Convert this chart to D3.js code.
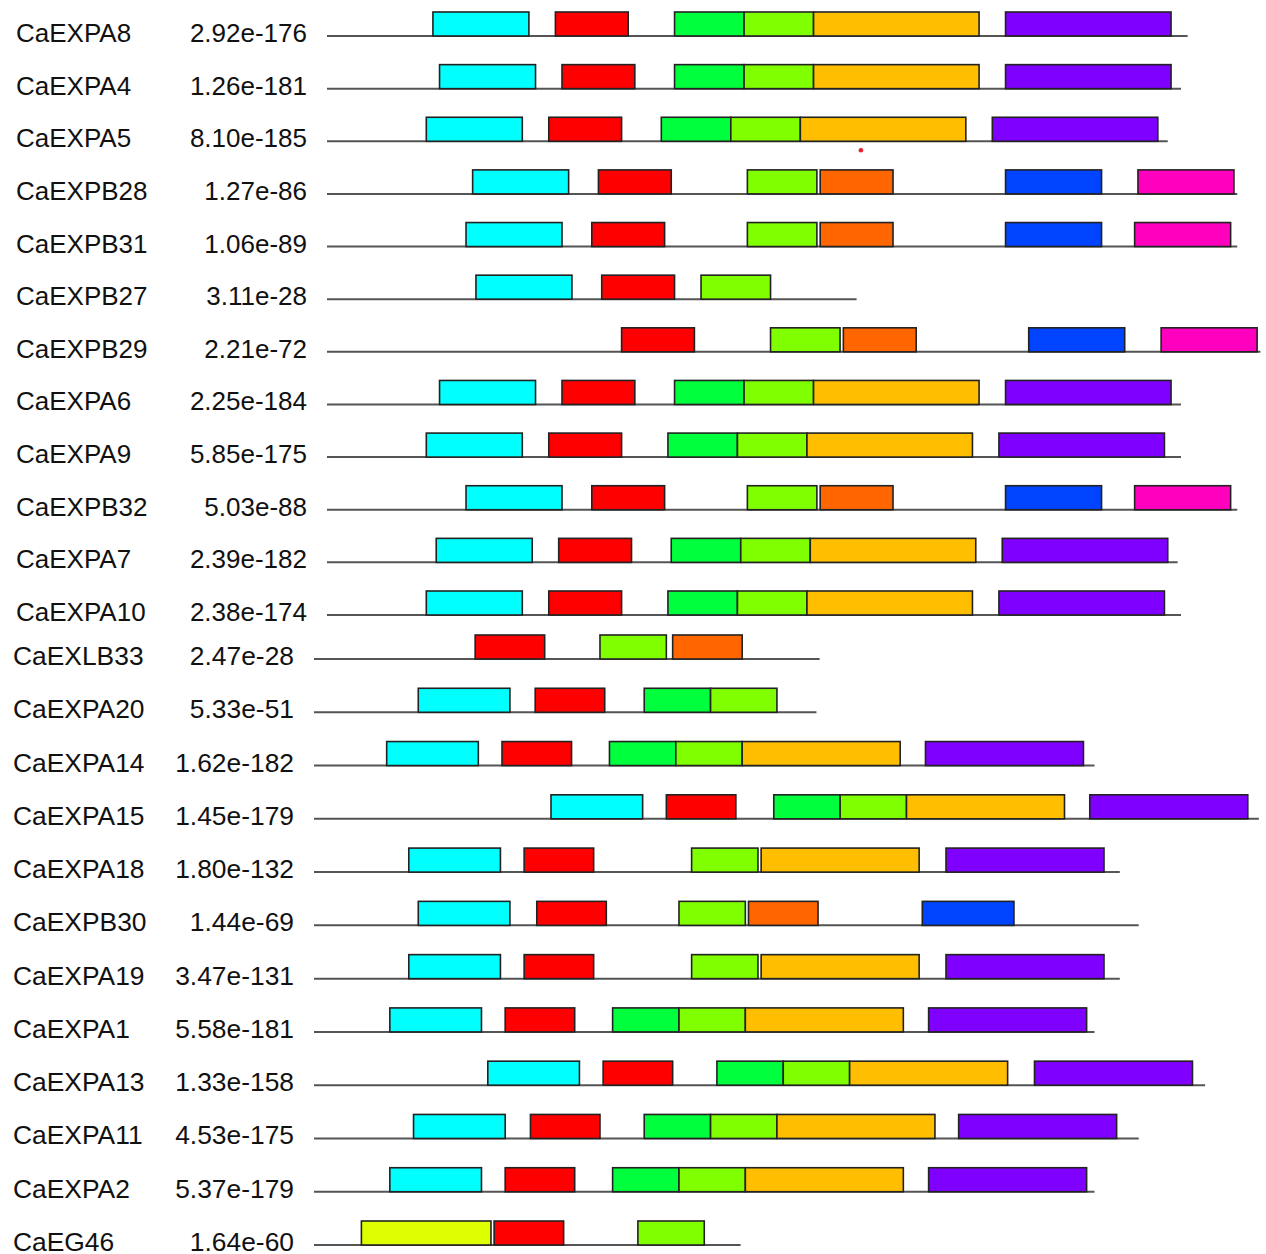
<!DOCTYPE html>
<html>
<head>
<meta charset="utf-8">
<script src="https://cdn.jsdelivr.net/npm/d3@7"></script>
<style>
  body { margin: 0; background: #fff; }
  text { font-family: "Liberation Sans", Arial, sans-serif; fill: #111; }
</style>
</head>
<body>
<div class="motif_box"></div>
<script>
// gene order as drawn, top panel then bottom panel
var genes = ["CaEXPA8","CaEXPA4","CaEXPA5","CaEXPB28","CaEXPB31","CaEXPB27","CaEXPB29","CaEXPA6","CaEXPA9","CaEXPB32","CaEXPA7","CaEXPA10",
             "CaEXLB33","CaEXPA20","CaEXPA14","CaEXPA15","CaEXPA18","CaEXPB30","CaEXPA19","CaEXPA1","CaEXPA13","CaEXPA11","CaEXPA2","CaEG46"];
var evalues = ["2.92e-176","1.26e-181","8.10e-185","1.27e-86","1.06e-89","3.11e-28","2.21e-72","2.25e-184","5.85e-175","5.03e-88","2.39e-182","2.38e-174",
               "2.47e-28","5.33e-51","1.62e-182","1.45e-179","1.80e-132","1.44e-69","3.47e-131","5.58e-181","1.33e-158","4.53e-175","5.37e-179","1.64e-60"];
// protein length (aa)
var seqLength = [260,258,254,275,275,160,282,258,258,275,257,258,
                 160,159,247,299,255,261,255,247,282,261,247,135];
// motif id -> width (aa) and colour
var motifWidth = {1:29, 2:22, 3:21, 4:21, 5:50, 6:50, 7:22, 8:29, 9:29, 10:41};
var motifColor = {1:"#00FFFF", 2:"#FF0000", 3:"#00FF3C", 4:"#80FF00", 5:"#FFBF00",
                  6:"#8000FF", 7:"#FF6600", 8:"#0044FF", 9:"#FF00BF", 10:"#DDFF00"};
// [motif id, start aa] for each gene
var motifSites = [
  [[1,32],[2,69],[3,105],[4,126],[5,147],[6,205]],
  [[1,34],[2,71],[3,105],[4,126],[5,147],[6,205]],
  [[1,30],[2,67],[3,101],[4,122],[5,143],[6,201]],
  [[1,44],[2,82],[4,127],[7,149],[8,205],[9,245]],
  [[1,42],[2,80],[4,127],[7,149],[8,205],[9,244]],
  [[1,45],[2,83],[4,113]],
  [[2,89],[4,134],[7,156],[8,212],[9,252]],
  [[1,34],[2,71],[3,105],[4,126],[5,147],[6,205]],
  [[1,30],[2,67],[3,103],[4,124],[5,145],[6,203]],
  [[1,42],[2,80],[4,127],[7,149],[8,205],[9,244]],
  [[1,33],[2,70],[3,104],[4,125],[5,146],[6,204]],
  [[1,30],[2,67],[3,103],[4,124],[5,145],[6,203]],
  [[2,51],[4,90.5],[7,113.5]],
  [[1,33],[2,70],[3,104.5],[4,125.5]],
  [[1,23],[2,59.5],[3,93.5],[4,114.5],[5,135.5],[6,193.5]],
  [[1,75],[2,111.5],[3,145.5],[4,166.5],[5,187.5],[6,245.5]],
  [[1,30],[2,66.5],[4,119.5],[5,141.5],[6,200]],
  [[1,33],[2,70.5],[4,115.5],[7,137.5],[8,192.5]],
  [[1,30],[2,66.5],[4,119.5],[5,141.5],[6,200]],
  [[1,24],[2,60.5],[3,94.5],[4,115.5],[5,136.5],[6,194.5]],
  [[1,55],[2,91.5],[3,127.5],[4,148.5],[5,169.5],[6,228]],
  [[1,31.5],[2,68.5],[3,104.5],[4,125.5],[5,146.5],[6,204]],
  [[1,24],[2,60.5],[3,94.5],[4,115.5],[5,136.5],[6,194.5]],
  [[10,15],[2,57],[4,102.5]]
];
// stray red dot in the original figure (row CaEXPA5, aa position)
var strayDot = {gene: "CaEXPA5", pos: 161.3};

var width = 1266, height = 1254;
var boxH = 24;

var svg = d3.select(".motif_box").append("svg")
  .attr("width", width).attr("height", height);

var panels = [
  {rows: d3.range(0, 12), x: d3.scaleLinear().domain([0, 283]).range([327, 327 + 283 * 3.31]),
   y: [36, 615], nameX: 16, evX: 307, font: 26},
  {rows: d3.range(12, 24), x: d3.scaleLinear().domain([0, 300]).range([314, 314 + 300 * 3.16]),
   y: [659, 1245], nameX: 13, evX: 294, font: 26.4}
];

panels.forEach(function(p) {
  var yScale = d3.scalePoint().domain(p.rows.map(i => genes[i])).range(p.y);
  p.yScale = yScale;

  var g = svg.append("g");
  var rows = g.selectAll(".row").data(p.rows).enter()
    .append("g").attr("class", "row")
    .attr("transform", i => "translate(0," + yScale(genes[i]) + ")");

  rows.append("text")
    .attr("x", p.nameX).attr("y", 6)
    .attr("font-size", p.font)
    .text(i => genes[i]);

  rows.append("text")
    .attr("x", p.evX).attr("y", 6)
    .attr("text-anchor", "end")
    .attr("font-size", p.font)
    .text(i => evalues[i]);

  rows.append("line")
    .attr("x1", p.x(0)).attr("x2", i => p.x(seqLength[i]))
    .attr("y1", 0).attr("y2", 0)
    .attr("stroke", "#555").attr("stroke-width", 2);

  rows.selectAll("rect")
    .data(i => motifSites[i])
    .enter().append("rect")
    .attr("x", d => p.x(d[1]))
    .attr("width", d => p.x(d[1] + motifWidth[d[0]]) - p.x(d[1]))
    .attr("y", -boxH).attr("height", boxH)
    .attr("fill", d => motifColor[d[0]])
    .attr("stroke", "#222").attr("stroke-width", 1.6);
});

svg.append("circle")
  .attr("cx", panels[0].x(strayDot.pos))
  .attr("cy", panels[0].yScale(strayDot.gene) + 9)
  .attr("r", 2.3).attr("fill", "#E8202A");
</script>
</body>
</html>
